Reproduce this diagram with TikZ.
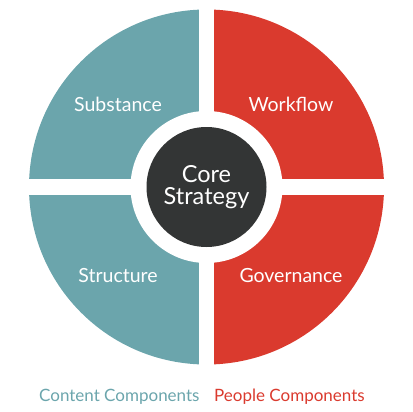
\documentclass[tikz,border=0pt]{standalone}
\usepackage{fontspec}
\setmainfont{Lato}
\definecolor{contentcol}{HTML}{6BA5AC}
\definecolor{peoplecol}{HTML}{DA3A2E}
\definecolor{corecol}{HTML}{333535}
\begin{document}
\begin{tikzpicture}[x=1pt,y=-1pt,
    quad/.style={text=white,inner sep=0pt,font=\fontsize{19.5}{22}\selectfont},
    core/.style={circle,fill=corecol,text=white,minimum size=120pt,inner sep=0pt,
      align=center,font=\fontsize{23.5}{22.5}\selectfont},
    legend/.style={inner sep=0pt,anchor=base west,font=\fontsize{17}{20}\selectfont}]
  \useasboundingbox (0,0) rectangle (412,412);
  \coordinate (c) at (206.5,187);
  \fill[contentcol] (c) -- ++(90:177.5) arc[start angle=90,end angle=270,radius=177.5] -- cycle;
  \fill[peoplecol] (c) -- ++(270:177.5) arc[start angle=270,end angle=450,radius=177.5] -- cycle;
  \begin{scope}[white]
    \fill (199,0) rectangle (214,380);
    \fill (0,179) rectangle (412,195);
    \fill (c) circle[radius=76];
  \end{scope}
  \node[core] (strategy) at (c) {Core\\Strategy};
  \draw
    (118,104) node[quad] (substance){Substance}
    (291,104) node[quad] (workflow){Workflow}
    (118,276) node[quad] (structure){Structure}
    (291,276) node[quad] (governance){Governance};
  \draw
    (39,401.5) node[legend,text=contentcol] (content){Content Components}
    (214,401.5) node[legend,text=peoplecol] (people){People Components};
\end{tikzpicture}
\end{document}
